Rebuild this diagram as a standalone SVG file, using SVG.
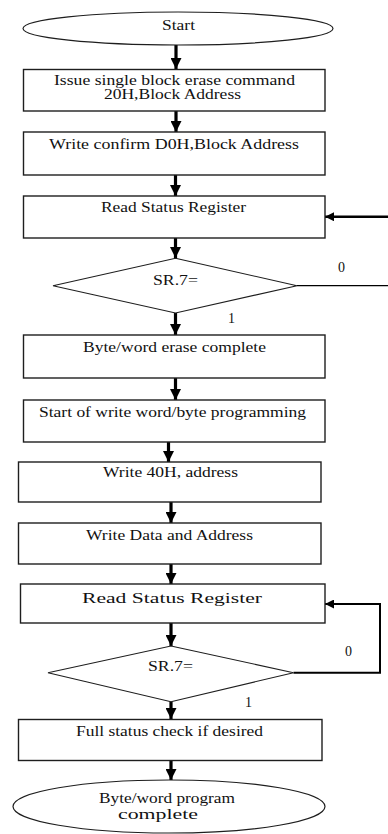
<svg xmlns="http://www.w3.org/2000/svg" width="388" height="834" viewBox="0 0 388 834">
  <style>
    .box { fill: #ffffff; stroke: #1e1e1e; stroke-width: 1.4; }
    .dia { fill: #ffffff; stroke: #1e1e1e; stroke-width: 1.1; }
    .term { fill: #ffffff; stroke: #1e1e1e; stroke-width: 1.2; }
    .lbl { font-family: "Liberation Serif", "Times New Roman", serif; font-size: 14px; fill: #111111; text-anchor: start; }
    .flow { fill: none; stroke: #000000; stroke-width: 3.2; marker-end: url(#head); }
    .back { fill: none; stroke: #000000; stroke-width: 2; }
  </style>
  <defs>
    <marker id="head" markerUnits="userSpaceOnUse" viewBox="0 0 10 10" refX="10" refY="5" markerWidth="11" markerHeight="11" orient="auto">
      <path d="M0,0 L10,5 L0,10 Z" fill="#000000"/>
    </marker>
    <marker id="headS" markerUnits="userSpaceOnUse" viewBox="0 0 10 10" refX="10" refY="5" markerWidth="9" markerHeight="9" orient="auto">
      <path d="M0,0 L10,5 L0,10 Z" fill="#000000"/>
    </marker>
  </defs>

  <rect width="388" height="834" fill="#ffffff"/>

  <!-- connectors -->
  <g id="connectors">
    <line class="flow" x1="176" y1="45" x2="176" y2="69"/>
    <line class="flow" x1="176" y1="111" x2="176" y2="132"/>
    <line class="flow" x1="175.5" y1="175" x2="175.5" y2="196"/>
    <line class="flow" x1="175.5" y1="238" x2="175.5" y2="258"/>
    <line class="flow" x1="175.5" y1="313" x2="175.5" y2="335"/>
    <line class="flow" x1="175.5" y1="378" x2="175.5" y2="400"/>
    <line class="flow" x1="168.5" y1="442" x2="168.5" y2="462"/>
    <line class="flow" x1="171" y1="502" x2="171" y2="523"/>
    <line class="flow" x1="171" y1="564" x2="171" y2="584"/>
    <line class="flow" x1="171" y1="623" x2="171" y2="646"/>
    <line class="flow" x1="171" y1="702" x2="171" y2="719"/>
    <line class="flow" x1="171" y1="761" x2="171" y2="780"/>
    <!-- first status loop: open-ended return into Read Status Register -->
    <line class="back" x1="297" y1="285.7" x2="388" y2="285.7" style="stroke-width:1.3"/>
    <line class="back" x1="388" y1="216.7" x2="325" y2="216.7" style="stroke-width:2.4" marker-end="url(#headS)"/>
    <!-- second status loop -->
    <path class="back" d="M293.5,672.7 H380 V604 H325" marker-end="url(#headS)"/>
    <text class="lbl" x="338" y="271.5" font-size="12">0</text>
    <text class="lbl" x="228" y="323">1</text>
    <text class="lbl" x="345" y="656" font-size="12">0</text>
    <text class="lbl" x="245" y="707">1</text>
  </g>

  <g id="start">
    <ellipse class="term" cx="178" cy="28.5" rx="155" ry="16.5"/>
    <text class="lbl" x="162" y="30" textLength="33" lengthAdjust="spacingAndGlyphs">Start</text>
  </g>

  <g id="erase-cmd">
    <rect class="box" x="23.5" y="69.5" width="301.5" height="41.5"/>
    <text class="lbl" x="54" y="85" textLength="241" lengthAdjust="spacingAndGlyphs">Issue single block erase command</text>
    <text class="lbl" x="104" y="99" textLength="137" lengthAdjust="spacingAndGlyphs">20H,Block Address</text>
  </g>

  <g id="confirm">
    <rect class="box" x="23.5" y="132" width="301.5" height="43"/>
    <text class="lbl" x="49" y="149" textLength="250" lengthAdjust="spacingAndGlyphs">Write confirm D0H,Block  Address</text>
  </g>

  <g id="read-status-1">
    <rect class="box" x="23.5" y="196" width="301.5" height="42"/>
    <text class="lbl" x="101" y="212" textLength="145" lengthAdjust="spacingAndGlyphs">Read Status Register</text>
  </g>

  <g id="check-1">
    <polygon class="dia" points="175.5,258.3 297,285.7 175.5,313 53,285.7"/>
    <text class="lbl" x="153" y="285" textLength="45" lengthAdjust="spacingAndGlyphs">SR.7=</text>
  </g>

  <g id="erase-done">
    <rect class="box" x="23.5" y="335" width="301.5" height="43"/>
    <text class="lbl" x="83" y="352" textLength="183" lengthAdjust="spacingAndGlyphs">Byte/word erase complete</text>
  </g>

  <g id="program-start">
    <rect class="box" x="23.5" y="400" width="301.5" height="42"/>
    <text class="lbl" x="39" y="416.7" textLength="267" lengthAdjust="spacingAndGlyphs">Start of write word/byte programming</text>
  </g>

  <g id="write-40h">
    <rect class="box" x="18.5" y="462" width="302.5" height="40"/>
    <text class="lbl" x="103" y="476.7" textLength="135" lengthAdjust="spacingAndGlyphs">Write 40H, address</text>
  </g>

  <g id="write-data">
    <rect class="box" x="18.5" y="523" width="302.5" height="41"/>
    <text class="lbl" x="86" y="540" textLength="167" lengthAdjust="spacingAndGlyphs">Write Data and Address</text>
  </g>

  <g id="read-status-2">
    <rect class="box" x="20.5" y="584" width="304.5" height="39"/>
    <text class="lbl" x="82" y="602.7" font-size="15" textLength="180" lengthAdjust="spacingAndGlyphs">Read Status Register</text>
  </g>

  <g id="check-2">
    <polygon class="dia" points="171,646 293.5,672.7 171,701.7 48,672.7"/>
    <text class="lbl" x="148" y="670.7" textLength="45" lengthAdjust="spacingAndGlyphs">SR.7=</text>
  </g>

  <g id="full-check">
    <rect class="box" x="18.5" y="719.5" width="303.5" height="41"/>
    <text class="lbl" x="76" y="735.7" textLength="187" lengthAdjust="spacingAndGlyphs">Full status check if desired</text>
  </g>

  <g id="done">
    <ellipse class="term" cx="169" cy="806.5" rx="156" ry="26.5"/>
    <text class="lbl" x="99" y="802.5" textLength="136" lengthAdjust="spacingAndGlyphs">Byte/word program</text>
    <text class="lbl" x="118" y="818.5" textLength="80" lengthAdjust="spacingAndGlyphs">complete</text>
  </g>
</svg>
